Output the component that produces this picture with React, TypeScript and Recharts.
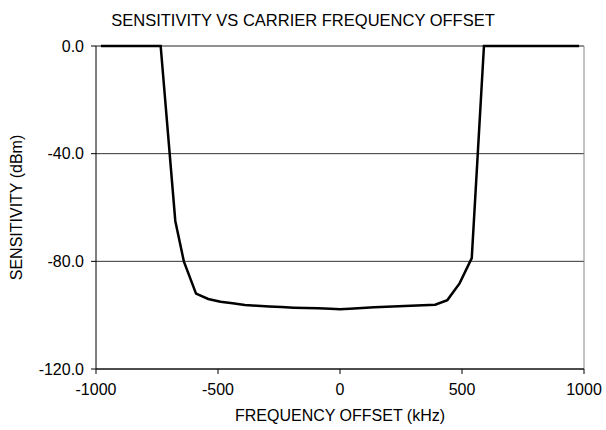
import React from "react";
import { LineChart, Line, XAxis, YAxis, CartesianGrid, ReferenceLine, Label } from "recharts";

const freqOffsetKHz = [-980, -735, -675, -640, -590, -540, -490, -440, -390, -340, -290, -240, -190, -140, -90, -40, 0, 40, 90, 140, 190, 240, 290, 340, 390, 440, 490, 540, 590, 980];
const sensitivityDbm = [0, 0, -65, -80, -92, -94, -95, -95.6, -96.2, -96.5, -96.8, -97, -97.2, -97.3, -97.4, -97.6, -97.8, -97.6, -97.3, -97.1, -96.9, -96.7, -96.5, -96.3, -96.1, -94.4, -88.2, -78.8, 0, 0];
const xTicks = [-1000, -500, 0, 500, 1000];
const yTicks = [-120, -80, -40, 0];

const data = freqOffsetKHz.map((f, i) => ({ f, s: sensitivityDbm[i] }));

const FONT = "'Liberation Sans', Arial, sans-serif";

export default function App() {
  return (
    <div style={{ position: "absolute", left: 0, top: 0, width: 606, height: 430, background: "#fff", fontFamily: FONT }}>
      <div style={{ position: "absolute", top: 10, left: 0, width: 606, textAlign: "center", fontSize: 16.5, lineHeight: "20px", color: "#000" }}>
        SENSITIVITY VS CARRIER FREQUENCY OFFSET
      </div>
      <LineChart width={606} height={430} data={data} margin={{ top: 46, right: 22, bottom: 0, left: 0 }}>
        <CartesianGrid vertical={false} stroke="#333" strokeWidth={1} />
        <ReferenceLine x={1000} stroke="#888" />
        <ReferenceLine y={0} stroke="#888" />
        <XAxis
          dataKey="f"
          type="number"
          domain={[-1000, 1000]}
          ticks={xTicks}
          height={61}
          tickSize={5}
          tickMargin={10}
          axisLine={{ stroke: "#000" }}
          tickLine={{ stroke: "#000" }}
          tick={{ fill: "#000", fontSize: 16, fontFamily: FONT }}
          interval={0}
        >
          <Label value="FREQUENCY OFFSET (kHz)" position="insideBottom" offset={9} style={{ fill: "#000", fontSize: 16, fontFamily: FONT }} />
        </XAxis>
        <YAxis
          type="number"
          domain={[-120, 0]}
          ticks={yTicks}
          width={96}
          tickSize={5}
          tickMargin={7}
          interval={0}
          tickFormatter={(v: number) => v.toFixed(1)}
          axisLine={{ stroke: "#000" }}
          tickLine={{ stroke: "#000" }}
          tick={{ fill: "#000", fontSize: 16, fontFamily: FONT }}
        >
          <Label value="SENSITIVITY (dBm)" angle={-90} position="insideLeft" offset={16} style={{ fill: "#000", fontSize: 16, fontFamily: FONT, textAnchor: "middle" }} />
        </YAxis>
        <Line type="linear" dataKey="s" stroke="#000" strokeWidth={2.5} dot={false} isAnimationActive={false} />
      </LineChart>
    </div>
  );
}
